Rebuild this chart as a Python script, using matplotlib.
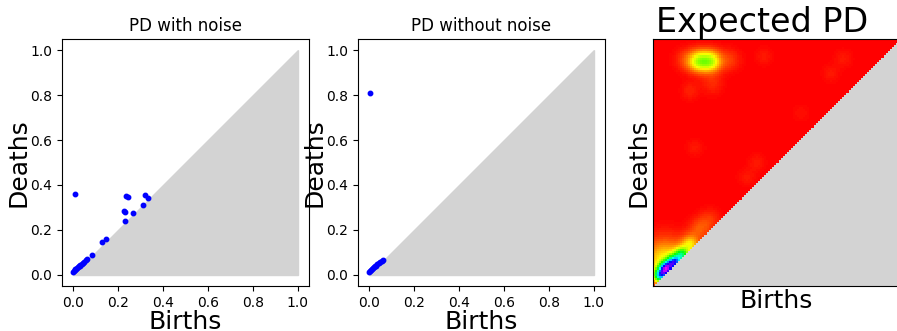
import numpy as np
import matplotlib

matplotlib.use("Agg")
import matplotlib.pyplot as plt  # noqa: E402


# Persistence diagram of the noisy sample (birth, death)
noisy_births = [0.000, 0.003, 0.006, 0.009, 0.012, 0.016, 0.020, 0.024, 0.028,
                0.032, 0.037, 0.042, 0.048, 0.055, 0.062, 0.082, 0.130, 0.145,
                0.231, 0.006, 0.234, 0.246, 0.227, 0.231, 0.264, 0.309, 0.319,
                0.331]
noisy_deaths = [0.012, 0.016, 0.020, 0.024, 0.027, 0.031, 0.034, 0.037, 0.041,
                0.044, 0.048, 0.053, 0.058, 0.064, 0.070, 0.088, 0.146, 0.160,
                0.241, 0.360, 0.352, 0.348, 0.286, 0.280, 0.275, 0.311, 0.356,
                0.342]

# Persistence diagram of the clean sample
clean_births = [0.000, 0.004, 0.008, 0.012, 0.016, 0.020, 0.025, 0.030, 0.036,
                0.042, 0.048, 0.055, 0.060, 0.005]
clean_deaths = [0.012, 0.017, 0.021, 0.025, 0.029, 0.033, 0.037, 0.041, 0.046,
                0.051, 0.057, 0.063, 0.068, 0.810]

# Averaged diagram mass used for the expected persistence image
exp_births = [0.030, 0.055, 0.085, 0.115, 0.150, 0.190, 0.050, 0.185, 0.235,
              0.130, 0.310, 0.150, 0.240, 0.450, 0.170, 0.420, 0.380, 0.720,
              0.770, 0.600, 0.230]
exp_deaths = [0.045, 0.070, 0.095, 0.125, 0.170, 0.230, 0.100, 0.910, 0.910,
              0.915, 0.915, 0.790, 0.820, 0.930, 0.560, 0.500, 0.440, 0.860,
              0.920, 0.700, 0.270]
exp_weights = [0.80, 1.00, 0.85, 0.55, 0.25, 0.10, 0.30, 0.33, 0.33,
               0.07, 0.07, 0.04, 0.05, 0.03, 0.03, 0.03, 0.03, 0.03,
               0.03, 0.02, 0.06]
exp_sigmas = [0.018, 0.018, 0.018, 0.020, 0.025, 0.030, 0.060, 0.030, 0.030,
              0.030, 0.030, 0.025, 0.030, 0.025, 0.025, 0.025, 0.025, 0.025,
              0.025, 0.025, 0.030]

GRID = 120

W, H = 897, 331
fig = plt.figure(figsize=(W / 100, H / 100), dpi=100)


def add_panel(left_px):
    return fig.add_axes([left_px / W, (H - 286) / H, 247 / W, 247 / H])


def draw_diagram(ax, births, deaths, title):
    ax.fill([0, 1, 1], [0, 0, 1], color="lightgray", zorder=1)
    ax.plot(births, deaths, "o", color="blue", markersize=3.2, zorder=2)
    ax.set_title(title, fontsize=12)
    ax.set_xlabel("Births", fontsize=18, labelpad=0)
    ax.set_ylabel("Deaths", fontsize=18, labelpad=0)
    ax.set_xticks([0.0, 0.2, 0.4, 0.6, 0.8, 1.0])
    ax.set_yticks([0.0, 0.2, 0.4, 0.6, 0.8, 1.0])


ax1 = add_panel(62)
draw_diagram(ax1, noisy_births, noisy_deaths, "PD with noise")

ax2 = add_panel(358)
draw_diagram(ax2, clean_births, clean_deaths, "PD without noise")

# Expected persistence image: gaussian mass of the averaged diagram
ax3 = add_panel(653)
xs = (np.arange(GRID) + 0.5) / GRID
bx, dy = np.meshgrid(xs, xs)
img = np.zeros_like(bx)
for b, d, w, s in zip(exp_births, exp_deaths, exp_weights, exp_sigmas):
    img += w * np.exp(-((bx - b) ** 2 + (dy - d) ** 2) / (2 * s ** 2))
img = np.ma.masked_where(dy < bx, img / img.max())

cmap = plt.get_cmap("hsv").copy()
cmap.set_bad("lightgray")
ax3.imshow(img, cmap=cmap, origin="lower", extent=[0, 1, 0, 1],
           interpolation="nearest", vmin=0, vmax=1.2, aspect="auto")
ax3.set_xticks([])
ax3.set_yticks([])
ax3.set_title("Expected PD", fontsize=24, x=0.44, pad=4)
ax3.set_xlabel("Births", fontsize=18, labelpad=2)
ax3.set_ylabel("Deaths", fontsize=18, labelpad=2)

fig.savefig("out.png", dpi=100)
